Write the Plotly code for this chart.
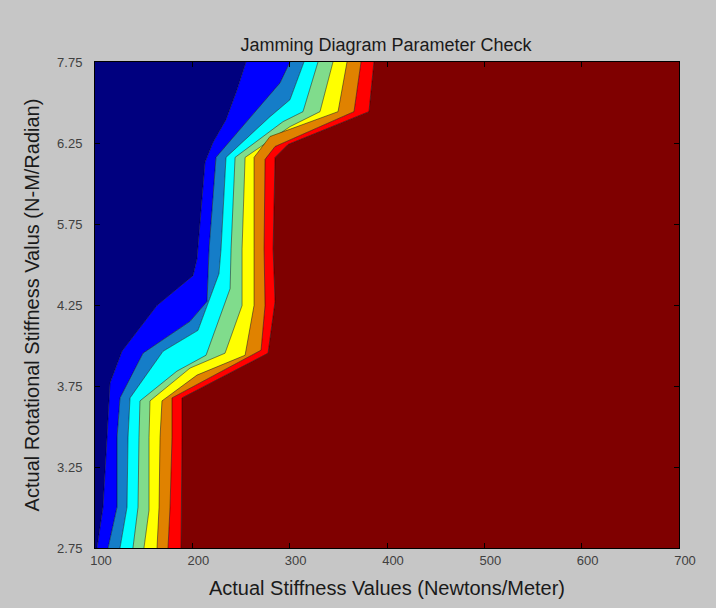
import plotly.graph_objects as go

# Row positions on the y axis (0 = bottom row ... 6 = top row) and their labels
y_tickvals = [0, 1, 2, 3, 4, 5, 6]
y_ticktext = ["2.75", "3.25", "3.75", "4.25", "5.75", "6.25", "7.75"]
x_tickvals = [100, 200, 300, 400, 500, 600, 700]

# Contour level boundaries (stiffness value along each level line, top to bottom)
b1_x = [255.1, 245.9, 234.6, 221.2, 213.0, 207.9, 204.8, 200.7, 163.7, 127.7, 115.4, 112.3, 108.2, 102.1]
b1_y = [6.0, 5.656, 5.288, 5.006, 4.761, 4.061, 3.571, 3.362, 2.994, 2.429, 2.037, 1.362, 0.503, 0.0]

b2_x = [300.3, 290.1, 266.4, 245.9, 224.3, 217.2, 215.1, 197.6, 149.3, 125.7, 122.6, 122.6, 113.4]
b2_y = [6.0, 5.742, 5.411, 5.129, 4.822, 3.693, 3.043, 2.798, 2.405, 1.853, 1.362, 0.503, 0.0]

b3_x = [314.7, 300.3, 279.8, 234.6, 229.5, 227.4, 205.8, 169.9, 136.0, 133.9, 132.9, 125.7]
b3_y = [6.0, 5.534, 5.325, 4.822, 3.693, 3.387, 2.687, 2.429, 1.853, 1.362, 0.503, 0.0]

b4_x = [329.1, 313.7, 293.2, 243.9, 239.8, 238.8, 214.1, 184.2, 146.2, 145.2, 144.2, 139.0]
b4_y = [6.0, 5.387, 5.264, 4.822, 3.693, 3.202, 2.380, 2.184, 1.816, 1.362, 0.503, 0.0]

b5_x = [344.5, 331.2, 300.3, 254.2, 251.1, 251.1, 233.6, 197.6, 156.5, 155.5, 155.5, 150.3]
b5_y = [6.0, 5.387, 5.202, 4.822, 3.693, 2.994, 2.405, 2.221, 1.816, 1.362, 0.466, 0.0]

b6_x = [358.9, 349.7, 279.8, 263.4, 263.4, 263.4, 254.2, 204.8, 168.8, 166.8, 165.8, 163.7]
b6_y = [6.0, 5.387, 5.080, 4.822, 3.693, 2.994, 2.380, 2.135, 1.816, 1.362, 0.503, 0.0]

b7_x = [373.3, 366.1, 285.0, 274.7, 273.7, 274.7, 270.6, 179.1, 179.1, 177.1, 175.0]
b7_y = [6.0, 5.387, 4.957, 4.798, 3.693, 2.994, 2.442, 1.853, 1.362, 0.503, 0.0]

b8_x = [386.6, 381.5, 298.3, 285.0, 283.0, 285.0, 277.8, 189.4, 189.4, 188.4]
b8_y = [6.0, 5.387, 4.982, 4.822, 3.693, 3.043, 2.405, 1.853, 1.362, 0.0]

# Band colours (jet colormap, low to high)
band_colors = ["#00007f", "#0000ff", "#157dc8", "#00ffff", "#80dc8c",
               "#ffff00", "#e08200", "#ff0000", "#7f0000"]

x_min, x_max = 100, 700
y_min, y_max = 0, 6

boundaries = [
    (b1_x, b1_y), (b2_x, b2_y), (b3_x, b3_y), (b4_x, b4_y),
    (b5_x, b5_y), (b6_x, b6_y), (b7_x, b7_y), (b8_x, b8_y),
]

fig = go.Figure()

# Left edge of the domain: start of the lowest band
fig.add_trace(go.Scatter(x=[x_min, x_min], y=[y_max, y_min], mode="lines",
                         line=dict(width=0), hoverinfo="skip", showlegend=False))

for i, (bx, by) in enumerate(boundaries):
    fig.add_trace(go.Scatter(
        x=bx, y=by, mode="lines",
        line=dict(color="rgba(0,0,0,0.75)", width=0.6),
        fill="tonextx", fillcolor=band_colors[i],
        hoverinfo="skip", showlegend=False,
    ))

# Right edge of the domain closes the highest band
fig.add_trace(go.Scatter(x=[x_max, x_max], y=[y_max, y_min], mode="lines",
                         line=dict(width=0), fill="tonextx",
                         fillcolor=band_colors[-1],
                         hoverinfo="skip", showlegend=False))

bg = "#c6c6c6"
family = "Liberation Sans, Arial, sans-serif"
tick_font = dict(family=family, size=13, color="#404040")
label_font = dict(family=family, size=20, color="#1a1a1a")

fig.update_layout(
    width=716, height=608,
    margin=dict(l=95, r=37, t=62, b=57),
    paper_bgcolor=bg, plot_bgcolor=bg,
    title=dict(text="Jamming Diagram Parameter Check",
               x=386 / 716, xanchor="center",
               y=1 - 45 / 608, yanchor="middle", yref="container",
               font=dict(family=family, size=18, color="#1a1a1a")),
    xaxis=dict(range=[x_min, x_max], tickvals=x_tickvals,
               showgrid=False, zeroline=False,
               showline=True, linecolor="black", linewidth=1, mirror="ticks",
               ticks="inside", ticklen=5, tickcolor="black",
               tickfont=tick_font, ticklabelshift=6,
               title=dict(text="Actual Stiffness Values (Newtons/Meter)",
                          font=label_font, standoff=14)),
    yaxis=dict(range=[y_min, y_max], tickvals=y_tickvals, ticktext=y_ticktext,
               showgrid=False, zeroline=False,
               showline=True, linecolor="black", linewidth=1, mirror="ticks",
               ticks="inside", ticklen=5, tickcolor="black",
               tickfont=tick_font, ticklabelstandoff=9,
               title=dict(text="Actual Rotational Stiffness Valus (N-M/Radian)",
                          font=label_font, standoff=12)),
)

fig.write_html("out.html")
